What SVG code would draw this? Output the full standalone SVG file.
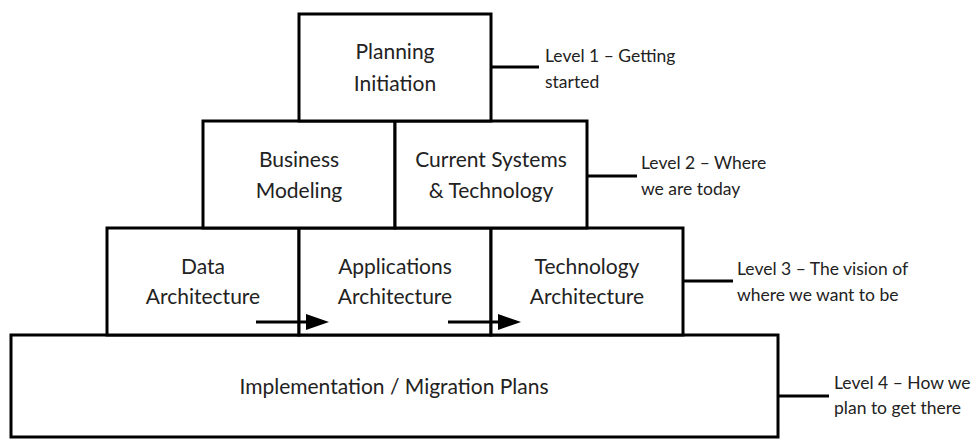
<svg xmlns="http://www.w3.org/2000/svg" width="979" height="442" viewBox="0 0 979 442">
<style>
.box{fill:#fff;stroke:#000;stroke-width:3}
.ln{stroke:#000;stroke-width:3;fill:none}
.t{font-family:Lato,"Open Sans",sans-serif;font-size:21px;fill:#222;text-anchor:middle}
.l{font-family:Lato,"Open Sans",sans-serif;font-size:17.5px;fill:#222}
</style>
<g id="level4"><rect class="box" x="11" y="335" width="767" height="102"/><text class="t" x="394" y="394">Implementation / Migration Plans</text></g>
<g id="data"><rect class="box" x="107" y="228" width="192" height="107"/><text class="t" x="203" y="274">Data</text><text class="t" x="203" y="304">Architecture</text></g>
<g id="apps"><rect class="box" x="299" y="228" width="192" height="107"/><text class="t" x="395" y="274">Applications</text><text class="t" x="395" y="304">Architecture</text></g>
<g id="tech"><rect class="box" x="491" y="228" width="192" height="107"/><text class="t" x="587" y="274">Technology</text><text class="t" x="587" y="304">Architecture</text></g>
<g id="business"><rect class="box" x="203" y="121" width="192" height="107"/><text class="t" x="299" y="167">Business</text><text class="t" x="299" y="198">Modeling</text></g>
<g id="current"><rect class="box" x="395" y="121" width="192" height="107"/><text class="t" x="491" y="167">Current Systems</text><text class="t" x="491" y="198">&amp; Technology</text></g>
<g id="planning"><rect class="box" x="299" y="14" width="192" height="107"/><text class="t" x="395" y="59">Planning</text><text class="t" x="395" y="91">Initiation</text></g>
<g id="connectors">
<line class="ln" x1="491" y1="67" x2="539" y2="67"/>
<line class="ln" x1="587" y1="176" x2="637" y2="176"/>
<line class="ln" x1="683" y1="281" x2="733" y2="281"/>
<line class="ln" x1="778" y1="396" x2="829" y2="396"/>
<line class="ln" x1="256" y1="322" x2="308" y2="322"/>
<polygon points="306,314 329,322 306,330" fill="#000"/>
<line class="ln" x1="448" y1="322" x2="500" y2="322"/>
<polygon points="498,314 521,322 498,330" fill="#000"/>
</g>
<g id="labels">
<text class="l" x="545" y="62">Level 1 – Getting</text><text class="l" x="545" y="88">started</text>
<text class="l" x="641" y="169">Level 2 – Where</text><text class="l" x="641" y="195">we are today</text>
<text class="l" x="737" y="275">Level 3 – The vision of</text><text class="l" x="737" y="301">where we want to be</text>
<text class="l" x="834" y="389">Level 4 – How we</text><text class="l" x="834" y="414">plan to get there</text>
</g>
</svg>
